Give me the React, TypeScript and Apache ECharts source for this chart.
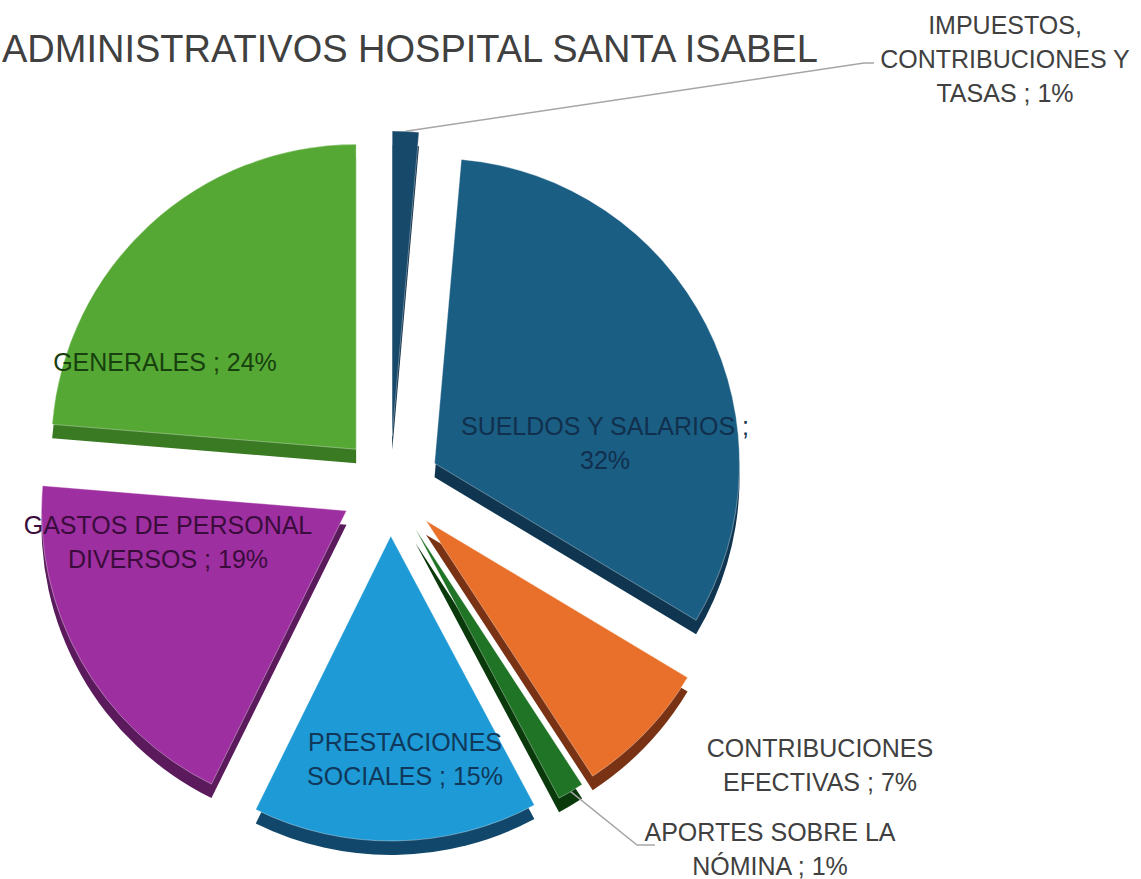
import React, { useEffect, useRef } from 'react';
import * as echarts from 'echarts';

const titleText = 'ADMINISTRATIVOS HOSPITAL SANTA ISABEL';
const categories = [
  'IMPUESTOS,\nCONTRIBUCIONES Y\nTASAS',
  'SUELDOS Y SALARIOS',
  'CONTRIBUCIONES\nEFECTIVAS',
  'APORTES SOBRE LA\nNÓMINA',
  'PRESTACIONES\nSOCIALES',
  'GASTOS DE PERSONAL\nDIVERSOS',
  'GENERALES',
];
const shares = [1.4, 32.2, 7.2, 1.4, 15.1, 19.0, 23.7];
const separators = [' ; ', ' ;\n', ' ; ', ' ; ', ' ; ', ' ; ', ' ; '];
const topColors = ['#17496b', '#1b5e84', '#e8702a', '#1f7425', '#1e9ad6', '#9e2fa0', '#55a834'];
const sideColors = ['#0c2c44', '#0f3550', '#7a3214', '#0a3a0c', '#11476a', '#5a1a5c', '#3a7a22'];
const labelColors = ['#404040', '#10304d', '#404040', '#404040', '#10385a', '#3a0c3c', '#18400f'];
const showLeader = [true, false, false, true, false, false, false];
// label block centres and leader-line bends (page pixels)
const labelCenters = [
  [1005, 59],
  [605, 443],
  [820, 765],
  [770, 849],
  [405, 759],
  [168, 542],
  [165, 362],
];
const leaderBends: Record<number, number[][]> = {
  0: [[864, 63], [874, 63]],
  3: [[637, 845], [655, 845]],
};

export default function App() {
  const ref = useRef<HTMLDivElement>(null);
  useEffect(() => {
    document.body.style.margin = '0';
    const chart = echarts.init(ref.current!, undefined, { renderer: 'svg' });
    const cx = 390;
    const cy = 486;
    const R = 305;
    const off = 50;
    const total = shares.reduce((a, b) => a + b, 0);
    let acc = 0;
    const offVec = shares.map((s) => {
      const m = ((acc + s / 2) / total) * 2 * Math.PI;
      acc += s;
      return [off * Math.sin(m), -off * Math.cos(m)];
    });
    const mainData = categories.map((name, i) => ({
      name,
      value: shares[i],
      selected: true,
      itemStyle: { color: topColors[i] },
      label: { color: labelColors[i] },
      labelLine: { show: showLeader[i] },
    }));
    const sideData = categories.map((name, i) => ({
      name,
      value: shares[i],
      selected: true,
      itemStyle: { color: sideColors[i] },
    }));
    chart.setOption({
      animation: false,
      title: {
        text: titleText,
        left: -3,
        top: 25,
        textStyle: {
          fontFamily: 'Liberation Sans, Arial, sans-serif',
          fontSize: 38,
          fontWeight: 'normal',
          color: '#404040',
        },
      },
      series: [
        {
          type: 'pie',
          z: 1,
          silent: true,
          center: [cx, cy + 14],
          radius: R,
          startAngle: 90,
          clockwise: true,
          selectedMode: 'multiple',
          selectedOffset: off,
          avoidLabelOverlap: false,
          label: { show: false },
          labelLine: { show: false },
          data: sideData,
        },
        {
          type: 'pie',
          z: 2,
          center: [cx, cy],
          radius: R,
          startAngle: 90,
          clockwise: true,
          selectedMode: 'multiple',
          selectedOffset: off,
          avoidLabelOverlap: false,
          itemStyle: { borderColor: 'rgba(255,255,255,0.35)', borderWidth: 1 },
          label: {
            show: true,
            position: 'outside',
            fontFamily: 'Liberation Sans, Arial, sans-serif',
            fontSize: 25,
            lineHeight: 34,
            formatter: (p: any) => `${p.name}${separators[p.dataIndex]}${Math.round(p.percent)}%`,
          },
          labelLine: { show: true, lineStyle: { color: '#a6a6a6', width: 1.5 }, length: 20, length2: 20 },
          labelLayout: (p: any) => {
            const i = p.dataIndex;
            const r = p.labelRect;
            const [ox, oy] = offVec[i];
            const anchorX = p.align === 'left' ? r.x : p.align === 'right' ? r.x + r.width : r.x + r.width / 2;
            const res: any = {
              align: 'center',
              dx: labelCenters[i][0] - anchorX - ox,
              dy: labelCenters[i][1] - (r.y + r.height / 2) - oy,
            };
            const bends = leaderBends[i];
            if (bends && p.labelLinePoints) {
              res.labelLinePoints = [
                p.labelLinePoints[0],
                ...bends.map((b) => [b[0] - ox, b[1] - oy]),
              ];
            }
            return res;
          },
          data: mainData,
        },
      ],
    });
    return () => chart.dispose();
  }, []);
  return <div ref={ref} style={{ width: 1141, height: 879 }} />;
}
